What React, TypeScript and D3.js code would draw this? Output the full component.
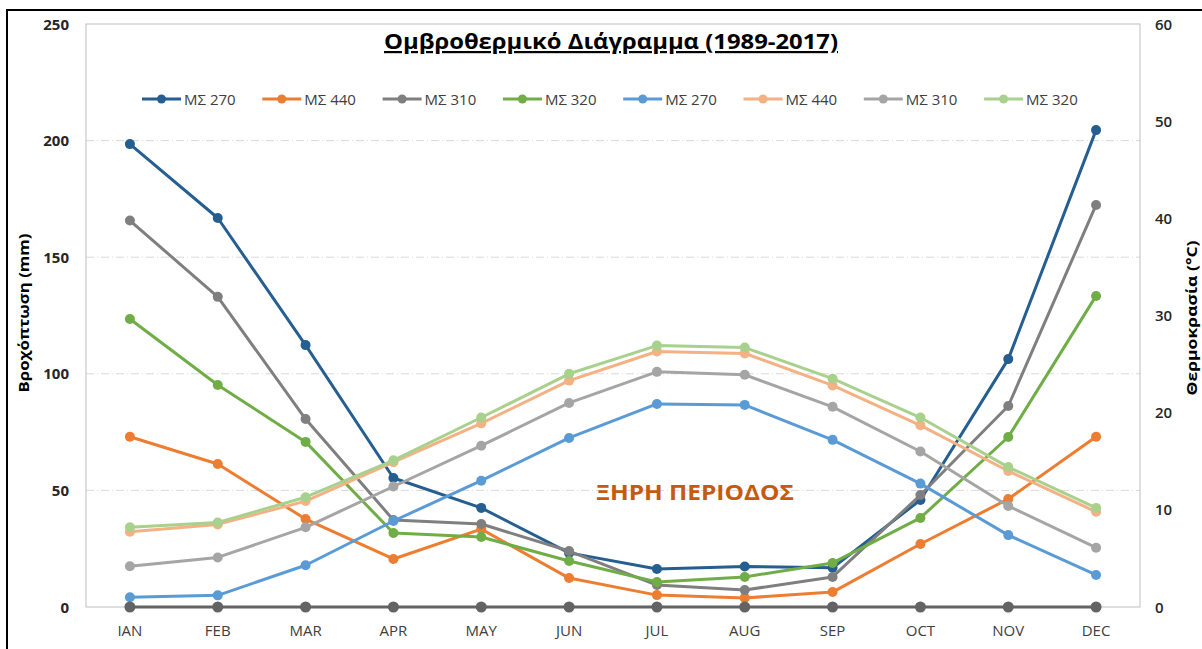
import React from "react";
import * as d3 from "d3";

const months = ["IAN", "FEB", "MAR", "APR", "MAY", "JUN", "JUL", "AUG", "SEP", "OCT", "NOV", "DEC"];

// Precipitation (mm) – left axis
const rain270 = [198.5, 166.8, 112.3, 55.3, 42.5, 23.2, 16.3, 17.4, 16.8, 45.9, 106.3, 204.5];
const rain440 = [73.0, 61.3, 37.7, 20.6, 33.4, 12.4, 5.1, 3.9, 6.4, 27.0, 46.3, 73.0];
const rain310 = [165.7, 133.0, 80.6, 37.3, 35.6, 24.0, 9.4, 7.3, 12.9, 48.0, 86.2, 172.4];
const rain320 = [123.5, 95.2, 70.8, 31.7, 30.0, 19.7, 10.7, 12.9, 18.9, 38.2, 72.9, 133.4];

// Temperature (°C) – right axis
const temp270 = [1.0, 1.2, 4.3, 8.85, 13.0, 17.4, 20.9, 20.8, 17.2, 12.7, 7.4, 3.3];
const temp440 = [7.75, 8.5, 10.9, 14.9, 18.9, 23.3, 26.3, 26.1, 22.8, 18.7, 14.0, 9.8];
const temp310 = [4.2, 5.1, 8.2, 12.4, 16.6, 21.0, 24.2, 23.9, 20.6, 16.0, 10.4, 6.1];
const temp320 = [8.2, 8.7, 11.3, 15.1, 19.5, 24.0, 26.9, 26.7, 23.5, 19.5, 14.4, 10.2];

const zeroSeries = [0, 0, 0, 0, 0, 0, 0, 0, 0, 0, 0, 0];

const leftTicks = [0, 50, 100, 150, 200, 250];
const rightTicks = [0, 10, 20, 30, 40, 50, 60];

const title = "Ομβροθερμικό Διάγραμμα (1989-2017)";
const leftTitle = "Βροχόπτωση (mm)";
const rightTitle = "Θερμοκρασία (°C)";
const dryLabel = "ΞΗΡΗ ΠΕΡΙΟΔΟΣ";

type Series = { name: string; values: number[]; color: string; axis: "L" | "R" };

const series: Series[] = [
  { name: "ΜΣ 270", values: rain270, color: "#255E91", axis: "L" },
  { name: "ΜΣ 440", values: rain440, color: "#ED7D31", axis: "L" },
  { name: "ΜΣ 310", values: rain310, color: "#7F7F7F", axis: "L" },
  { name: "ΜΣ 320", values: rain320, color: "#70AD47", axis: "L" },
  { name: "ΜΣ 270", values: temp270, color: "#5B9BD5", axis: "R" },
  { name: "ΜΣ 440", values: temp440, color: "#F4B183", axis: "R" },
  { name: "ΜΣ 310", values: temp310, color: "#A5A5A5", axis: "R" },
  { name: "ΜΣ 320", values: temp320, color: "#A9D18E", axis: "R" },
];

const FONT = "'Open Sans', 'Noto Sans', sans-serif";

export default function App() {
  const W = 1202, H = 649;
  const left = 86, right = 1140, top = 24, bottom = 607;

  const x = d3.scaleBand<string>().domain(months).range([left, right]).padding(0);
  const cx = (m: string) => (x(m) as number) + x.bandwidth() / 2;
  const yL = d3.scaleLinear().domain([0, 250]).range([bottom, top]);
  const yR = d3.scaleLinear().domain([0, 60]).range([bottom, top]);

  const lineFor = (s: Series) =>
    d3
      .line<number>()
      .x((_, i) => cx(months[i]))
      .y((v) => (s.axis === "L" ? yL(v) : yR(v)))(s.values) as string;

  const zeroLine = d3
    .line<number>()
    .x((_, i) => cx(months[i]))
    .y((v) => yL(v))(zeroSeries) as string;

  const legendX0 = 142, legendStep = 120.3, legendY = 99;

  return (
    <svg
      width={W}
      height={H}
      style={{ position: "absolute", left: 0, top: 0, background: "#fff" }}
      fontFamily={FONT}
    >
      <rect x={0} y={0} width={W} height={H} fill="#fff" />
      {/* outer frame */}
      <rect x={7} y={10} width={W} height={H} fill="none" stroke="#000" strokeWidth={2} />

      {/* gridlines */}
      {leftTicks
        .filter((t) => t > 0 && t < 250)
        .map((t) => (
          <line
            key={"g" + t}
            x1={left}
            x2={right}
            y1={yL(t)}
            y2={yL(t)}
            stroke="#D9D9D9"
            strokeWidth={1}
            strokeDasharray="8 3 1 3"
          />
        ))}
      {/* plot area border */}
      <rect x={left} y={top} width={right - left} height={bottom - top} fill="none" stroke="#BFBFBF" strokeWidth={1} />

      {/* left ticks */}
      {leftTicks.map((t) => (
        <text key={"l" + t} x={69} y={yL(t) + 5.5} textAnchor="end" fontSize={15} fontWeight="bold" fill="#262626">
          {t}
        </text>
      ))}
      {/* right ticks */}
      {rightTicks.map((t) => (
        <text key={"r" + t} x={1155} y={yR(t) + 5.5} textAnchor="start" fontSize={15} fontWeight={600} fill="#262626">
          {t}
        </text>
      ))}
      {/* x labels */}
      {months.map((m) => (
        <text key={m} x={cx(m)} y={636} textAnchor="middle" fontSize={15} fill="#404040">
          {m}
        </text>
      ))}

      {/* axis titles */}
      <text
        transform={`translate(29,313) rotate(-90)`}
        textAnchor="middle"
        fontSize={15}
        fontWeight="bold"
        fill="#000"
        textLength={159}
        lengthAdjust="spacingAndGlyphs"
      >
        {leftTitle}
      </text>
      <text
        transform={`translate(1197,318) rotate(-90)`}
        textAnchor="middle"
        fontSize={15}
        fontWeight="bold"
        fill="#000"
        textLength={155}
        lengthAdjust="spacingAndGlyphs"
      >
        {rightTitle}
      </text>

      {/* title */}
      <text
        x={611}
        y={49}
        textAnchor="middle"
        fontSize={22}
        fontWeight="bold"
        fill="#000"
        textDecoration="underline"
        textLength={454}
        lengthAdjust="spacingAndGlyphs"
      >
        {title}
      </text>

      {/* dry period label */}
      <text x={596} y={500} fontSize={22} fontWeight="bold" fill="#C55A11" textLength={198} lengthAdjust="spacingAndGlyphs">
        {dryLabel}
      </text>

      {/* series */}
      {series.map((s, k) => (
        <g key={"s" + k}>
          <path d={lineFor(s)} fill="none" stroke={s.color} strokeWidth={3} strokeLinejoin="round" />
          {s.values.map((v, i) => (
            <circle
              key={i}
              cx={cx(months[i])}
              cy={s.axis === "L" ? yL(v) : yR(v)}
              r={5}
              fill={s.color}
            />
          ))}
        </g>
      ))}
      {/* zero series */}
      <g>
        <path d={zeroLine} fill="none" stroke="#636363" strokeWidth={3} />
        {zeroSeries.map((v, i) => (
          <circle key={i} cx={cx(months[i])} cy={yL(v)} r={5.5} fill="#636363" />
        ))}
      </g>

      {/* legend */}
      {series.map((s, k) => {
        const lx = legendX0 + k * legendStep;
        return (
          <g key={"lg" + k}>
            <line x1={lx} x2={lx + 39} y1={legendY} y2={legendY} stroke={s.color} strokeWidth={3} />
            <circle cx={lx + 19.5} cy={legendY} r={4.5} fill={s.color} />
            <text x={lx + 42} y={legendY + 5.5} fontSize={15} fill="#404040">
              {s.name}
            </text>
          </g>
        );
      })}
    </svg>
  );
}
